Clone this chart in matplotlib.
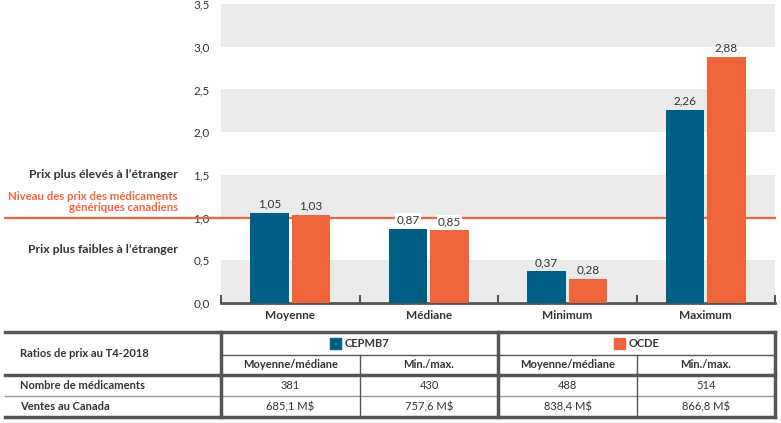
import matplotlib.pyplot as plt
import numpy as np

categories = ['Moyenne', 'Médiane', 'Minimum', 'Maximum']
cepmb7 = [1.05, 0.87, 0.37, 2.26]
ocde = [1.03, 0.85, 0.28, 2.88]
series_names = ['CEPMB7', 'OCDE']
sub_headers = ['Moyenne/médiane', 'Min./max.', 'Moyenne/médiane', 'Min./max.']
row_labels = ['Nombre de médicaments', 'Ventes au Canada']
nb_medicaments = ['381', '430', '488', '514']
ventes = ['685,1 M$', '757,6 M$', '838,4 M$', '866,8 M$']
table_title = 'Ratios de prix au T4-2018'

blue = '#005f87'
orange = '#f0643c'
grey_band = '#ebebeb'
dark = '#333333'
line_col = '#555555'

plt.rcParams['font.family'] = ['Lato', 'DejaVu Sans']

W, H = 781, 423
fig = plt.figure(figsize=(W / 100, H / 100), dpi=100)

# chart area in pixels
x0, x1 = 221, 775
y_top, y_bot = 4, 303
ax = fig.add_axes([x0 / W, 1 - y_bot / H, (x1 - x0) / W, (y_bot - y_top) / H])
ax.set_xlim(-0.5, 3.5)
ax.set_ylim(0, 3.5)

for lo in [0, 1.0, 2.0, 3.0]:
    ax.axhspan(lo, lo + 0.5, color=grey_band, lw=0, zorder=0)

x = np.arange(len(categories))
bw = 0.275
off = 0.15
b1 = ax.bar(x - off, cepmb7, bw, color=blue, zorder=3)
b2 = ax.bar(x + off, ocde, bw, color=orange, zorder=3)

# reference line at 1.0 extending across the left labels
ax.axhline(1.0, xmin=(5 - x0) / (x1 - x0), xmax=1, color=orange, lw=1.6,
           clip_on=False, zorder=2)

for bars, vals in [(b1, cepmb7), (b2, ocde)]:
    for r, v in zip(bars, vals):
        ax.text(r.get_x() + r.get_width() / 2, v + 0.04, f'{v:.2f}'.replace('.', ','),
                ha='center', va='bottom', fontsize=8.5, color=dark, zorder=4,
                bbox=dict(boxstyle='square,pad=0.1', fc='white', ec='none')
                if 0.7 < v < 0.98 else None)

yt = np.arange(0, 3.51, 0.5)
ax.set_yticks(yt)
ax.set_yticklabels([f'{v:.1f}'.replace('.', ',') for v in yt], fontsize=8.5, color=dark)
ax.tick_params(axis='y', length=0, pad=8)

ax.set_xticks([-0.5, 0.5, 1.5, 2.5, 3.5])
ax.set_xticklabels([])
ax.set_xticks(x, minor=True)
ax.set_xticklabels(categories, minor=True, fontsize=8.5, fontweight='bold', color=dark)
ax.tick_params(axis='x', which='major', direction='in', length=6, width=1.5, color=line_col)
ax.tick_params(axis='x', which='minor', length=0, pad=5)

for s in ['top', 'right', 'left']:
    ax.spines[s].set_visible(False)
ax.spines['bottom'].set_color(line_col)
ax.spines['bottom'].set_linewidth(2)

# left labels
lx = (178 - x0) / (x1 - x0)
tr = ax.get_yaxis_transform()
ax.text(lx, 1.5, 'Prix plus élevés à l\u2019étranger', transform=tr, ha='right', va='center',
        fontsize=8.8, color=dark, fontweight='bold')
ax.text(lx, 1.05, 'Niveau des prix des médicaments\ngénériques canadiens', transform=tr,
        ha='right', va='bottom', fontsize=8.2, color=orange, fontweight='bold',
        linespacing=1.0, multialignment='right')
ax.text(lx, 0.63, 'Prix plus faibles à l\u2019étranger', transform=tr, ha='right', va='center',
        fontsize=8.8, color=dark, fontweight='bold')

# table overlay in pixel coordinates
tb = fig.add_axes([0, 0, 1, 1])
tb.set_xlim(0, W)
tb.set_ylim(H, 0)
tb.axis('off')

cols = [221, 360, 498, 637, 775]
rows = [332, 355, 375, 396, 417]
thick, thin = 2.5, 1.0

tb.plot([5, 775], [rows[0], rows[0]], color=line_col, lw=thick)
tb.plot([5, 775], [rows[2], rows[2]], color=line_col, lw=thick)
tb.plot([5, 775], [rows[4], rows[4]], color=line_col, lw=thick)
tb.plot([221, 775], [rows[1], rows[1]], color=line_col, lw=thin)
tb.plot([5, 775], [rows[3], rows[3]], color='#999999', lw=thin)
for cx in [221, 498, 775]:
    tb.plot([cx, cx], [rows[0], rows[4]], color=line_col, lw=thick)
for cx in [360, 637]:
    tb.plot([cx, cx], [rows[1], rows[4]], color=line_col, lw=thin)

tb.text(20, (rows[0] + rows[2]) / 2, table_title, ha='left', va='center',
        fontsize=8, fontweight='bold', color=dark)

fig.canvas.draw()
renderer = fig.canvas.get_renderer()
sq, gap = 11, 4
for i, (name, col) in enumerate(zip(series_names, [blue, orange])):
    cx = (cols[2 * i] + cols[2 * i + 2]) / 2
    cy = (rows[0] + rows[1]) / 2
    t = tb.text(0, cy, name, ha='left', va='center', fontsize=8,
                fontweight='bold', color=dark)
    tw = t.get_window_extent(renderer).width
    start = cx - (sq + gap + tw) / 2
    t.set_x(start + sq + gap)
    tb.add_patch(plt.Rectangle((start, cy - sq / 2), sq, sq, color=col))

for j, sh in enumerate(sub_headers):
    cx = (cols[j] + cols[j + 1]) / 2
    tb.text(cx, (rows[1] + rows[2]) / 2, sh, ha='center', va='center', fontsize=8,
            fontweight='bold', color=dark)
    tb.text(cx, (rows[2] + rows[3]) / 2, nb_medicaments[j], ha='center', va='center',
            fontsize=8, color=dark)
    tb.text(cx, (rows[3] + rows[4]) / 2, ventes[j], ha='center', va='center',
            fontsize=8, color=dark)

for k, rl in enumerate(row_labels):
    tb.text(20, (rows[2 + k] + rows[3 + k]) / 2, rl, ha='left', va='center',
            fontsize=8, fontweight='bold', color=dark)

fig.savefig('out.png', dpi=100)
